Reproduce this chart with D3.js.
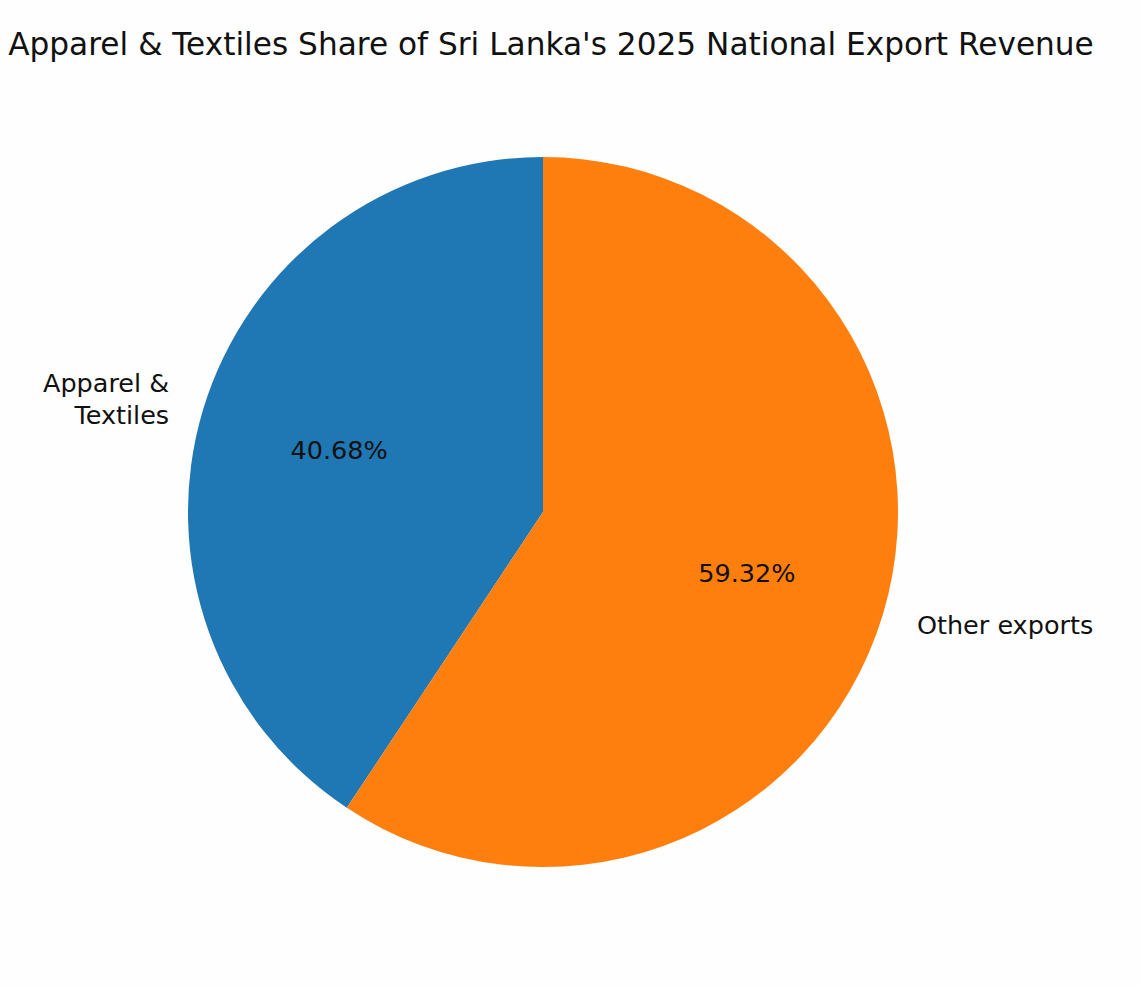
<!DOCTYPE html>
<html><head><meta charset="utf-8">
<script src="https://cdn.jsdelivr.net/npm/d3@7/dist/d3.min.js"></script>
<style>body{margin:0;background:#fff;overflow:hidden}</style>
</head><body>
<svg id="c" width="1140" height="986"></svg>
<script>
const categories = ["Apparel & Textiles", "Other exports"];
const labelLines = [["Apparel &", "Textiles"], ["Other exports"]];
const values = [40.68, 59.32];
const colors = ["#1f77b4", "#ff7f0e"];
const title = "Apparel & Textiles Share of Sri Lanka's 2025 National Export Revenue";

const svg = d3.select("#c");
const W = 1140, H = 986;
svg.append("rect").attr("width", W).attr("height", H).attr("fill", "#fefefe");
const cx = 543, cy = 512, r = 355;
const font = "'DejaVu Sans', sans-serif";

svg.append("text").attr("x", 551).attr("y", 55).attr("text-anchor", "middle")
  .attr("font-family", font).attr("font-size", 31.2).attr("fill", "#111").text(title);

// matplotlib style: start at top, counterclockwise
const pie = d3.pie().sort(null).startAngle(0).endAngle(-2 * Math.PI).value(d => d);
const arcs = pie(values);
const arc = d3.arc().innerRadius(0).outerRadius(r);
const g = svg.append("g").attr("transform", `translate(${cx},${cy})`);
g.selectAll("path").data(arcs).join("path")
  .attr("d", arc).attr("fill", (d, i) => colors[i]);

function pos(d, k) {
  const a = (d.startAngle + d.endAngle) / 2; // d3 angle: 0 at top, clockwise positive
  return [Math.sin(a) * r * k, -Math.cos(a) * r * k];
}
arcs.forEach((d, i) => {
  const [px, py] = pos(d, 0.6);
  g.append("text").attr("x", px).attr("y", py).attr("dy", "0.35em")
    .attr("text-anchor", "middle").attr("font-family", font).attr("font-size", 25.5)
    .attr("fill", "#111").text(values[i].toFixed(2) + "%");
  const [lx, ly] = pos(d, 1.1);
  const lines = labelLines[i];
  const anchor = lx < 0 ? "end" : "start";
  const lh = 32;
  const t = g.append("text").attr("text-anchor", anchor).attr("font-family", font)
    .attr("font-size", 25.5).attr("fill", "#111");
  lines.forEach((ln, j) => {
    t.append("tspan").attr("x", lx).attr("y", ly + (j - (lines.length - 1) / 2) * lh)
      .attr("dy", "0.35em").text(ln);
  });
});
</script>
</body></html>
